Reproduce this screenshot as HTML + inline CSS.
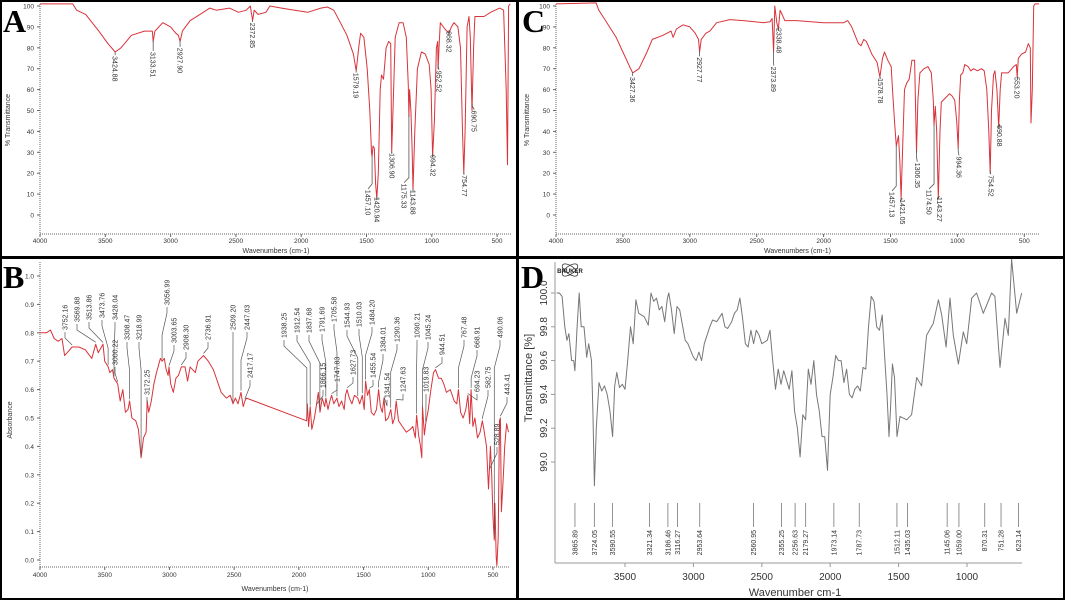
<!DOCTYPE html>
<html><head><meta charset="utf-8"><style>
html,body{margin:0;padding:0;background:#fff}
svg{display:block;font-family:"Liberation Sans",sans-serif}
</style></head><body>
<svg id="s" width="1065" height="600" viewBox="0 0 1065 600" xmlns="http://www.w3.org/2000/svg">
<rect x="0" y="0" width="1065" height="600" fill="#fff"/>
</svg>
<script>
// ---------- DATA ----------
const aWn=[4000,3750,3720,3650,3550,3480,3424,3380,3300,3200,3140,3133,3120,3060,3000,2960,2940,2927,2910,2850,2750,2700,2650,2550,2480,2420,2390,2372,2360,2330,2270,2240,2150,2050,1950,1850,1800,1750,1700,1650,1600,1579,1560,1545,1520,1495,1475,1462,1457,1450,1440,1430,1421,1410,1395,1385,1370,1350,1330,1315,1307,1295,1280,1250,1220,1195,1180,1175,1170,1160,1150,1144,1130,1110,1080,1050,1020,1005,994,980,965,955,952,945,935,900,870,850,830,800,780,765,755,745,730,715,705,692,680,670,600,550,480,450,430,420,412,400];
const aT=[101,101,98,96,88,82,78,80,86,88,88,83,88,92,90,87,86,83,88,93,97,99,98,99,97,98,100,93,98,96,97,100,99,98,97,99,99.5,98,92,86,77,69,80,87,85,70,50,30,28,33,32,15,8,20,60,67,65,80,83,82,30,55,85,92,92,85,62,47,60,50,30,12,40,70,78,77,72,60,28,45,80,83,70,80,92,89,87,90,92,90,80,40,20,40,90,95,85,50,80,95,95,97,99,98,60,24,100,101];
const aLblText=["3424.88","3133.51","2927.90","2372.85","1579.19","1457.10","1420.94","1306.90","1175.33","1143.88","994.32","952.52","868.32","754.77","690.75"];
const aLblPeak=[3424.88,3133.51,2927.9,2372.85,1579.19,1457.1,1420.94,1306.9,1175.33,1143.88,994.32,952.52,868.32,754.77,690.75];
const aLblWn=[3424,3133,2927,2372,1579,1488,1420,1305,1213,1143,990,945,868,750,675];
const aLblTop=[76,78,80,92,68,12,8.6,29.6,15,12,28.7,69,88,19,50];

const cWn=[4000,3700,3680,3640,3600,3550,3500,3450,3427,3380,3320,3280,3200,3140,3125,3100,3050,3000,2960,2935,2927,2915,2880,2850,2800,2700,2600,2450,2400,2385,2374,2365,2350,2338,2325,2310,2290,2200,2000,1850,1820,1790,1740,1720,1700,1680,1640,1600,1579,1560,1545,1520,1495,1485,1470,1457,1450,1440,1430,1421,1410,1395,1380,1360,1340,1320,1306,1295,1280,1250,1220,1195,1180,1175,1165,1155,1143,1130,1120,1090,1060,1040,1020,1005,994,985,975,960,945,920,900,880,850,820,800,780,765,755,745,730,720,705,691,680,670,620,580,560,553,545,520,490,470,455,450,440,430,420,390];
const cT=[101,101.5,98,94,90,85,78,71,68,70,78,84,86,88,85,89,91,90,87,84,78,84,87,88,92,93.5,93,92,92.5,94,78,100,92,89,98,96,93,93,92,92,93,90,82,81,84,83,77,73,66,75,78,74,71,60,45,33,35,38,25,8,30,60,63,65,74,74,30,55,68,70,71,68,55,43,52,40,8,40,54,56,58,57,55,45,32,55,67,68,72,71,69,70,69,70,69,60,40,20,50,67,69,60,42,60,68,68,71,72,66,75,77,78,82,80,44,60,100,101,101];
const cLblText=["3427.36","2927.77","2373.89","2338.48","1578.78","1457.13","1421.05","1306.35","1174.50","1143.27","994.36","754.52","690.88","553.20"];
const cLblPeak=[3427.36,2927.77,2373.89,2338.48,1578.78,1457.13,1421.05,1306.35,1174.5,1143.27,994.36,754.52,690.88,553.2];
const cLblWn=[3427,2927,2373,2332,1575,1489,1412,1300,1212,1135,988,750,684,553];
const cLblTop=[66,75.5,71,89.5,65.5,11,7.6,25,12,8.6,28,19,43,66];

const bWn=[4000,3950,3920,3890,3860,3830,3810,3790,3752,3700,3650,3600,3570,3550,3513,3500,3473,3460,3440,3428,3400,3380,3360,3340,3320,3308,3290,3260,3240,3225,3219,3200,3180,3172,3160,3140,3120,3100,3070,3057,3040,3025,3010,3003,2990,2970,2950,2930,2908,2880,2860,2840,2800,2780,2737,2700,2660,2630,2600,2560,2530,2509,2490,2470,2447,2430,2417,2405,1940,1935,1925,1912,1900,1880,1866,1850,1837,1820,1800,1791,1775,1760,1747,1730,1706,1690,1670,1650,1640,1628,1610,1590,1570,1545,1530,1510,1495,1484,1470,1456,1440,1420,1400,1384,1370,1355,1342,1330,1310,1290,1275,1260,1248,1230,1200,1170,1140,1120,1100,1090,1075,1060,1050,1045,1030,1020,1000,980,960,944,920,900,880,860,830,800,780,767,750,730,710,694,680,669,655,640,620,600,583,570,550,535,525,520,510,500,490,485,475,470,460,450,443,435,420,410,395,380];
const bAbs=[.80,.80,.81,.78,.77,.78,.72,.73,.75,.75,.74,.71,.76,.73,.76,.70,.68,.66,.67,.64,.62,.56,.60,.52,.53,.56,.50,.49,.46,.39,.36,.43,.45,.56,.52,.56,.62,.66,.71,.70,.71,.67,.65,.68,.62,.59,.64,.65,.68,.68,.63,.68,.66,.70,.72,.70,.67,.63,.59,.57,.58,.55,.57,.55,.59,.54,.56,.57,.49,.55,.47,.54,.46,.50,.54,.59,.52,.57,.54,.57,.53,.56,.58,.55,.57,.54,.56,.53,.58,.60,.57,.55,.58,.57,.55,.58,.53,.63,.58,.60,.52,.51,.53,.60,.54,.52,.57,.49,.50,.53,.48,.50,.56,.49,.47,.45,.46,.47,.43,.51,.44,.40,.36,.54,.44,.48,.53,.60,.66,.67,.64,.64,.62,.59,.60,.56,.55,.60,.52,.50,.53,.58,.48,.60,.47,.50,.43,.45,.49,.46,.40,.25,.35,.40,.30,.15,.07,.20,.01,-.02,.08,.49,.50,.17,.30,.40,.48,.45];
const bLblText=["3752.16","3569.88","3513.86","3473.76","3428.04","3308.47","3218.99","3056.99","3003.65","2908.30","2736.91","2509.20","2447.03","2417.17","1938.25","1912.54","1837.68","1791.69","1705.58","1544.93","1510.03","1484.20","1384.01","1290.36","1090.21","1045.24","944.51","767.48","668.91","490.06","3000.22","3172.25","1866.15","1747.83","1627.73","1455.54","1341.54","1247.63","1019.83","694.23","582.75","528.89","443.41"];
const bLblPeak=[3752.16,3569.88,3513.86,3473.76,3428.04,3308.47,3218.99,3056.99,3003.65,2908.3,2736.91,2509.2,2447.03,2417.17,1938.25,1912.54,1837.68,1791.69,1705.58,1544.93,1510.03,1484.2,1384.01,1290.36,1090.21,1045.24,944.51,767.48,668.91,490.06,3400,3172.25,1866.15,1747.83,1627.73,1455.54,1341.54,1247.63,1019.83,694.23,582.75,528.89,443.41];
// label layout (text column x, text bottom y) in px
const bLblLayout=[[65,330],[77,322],[89,320],[102,318],[115,320],[127,340],[139,340],[167,305],[174,343],[186,350],[208,340],[233,330],[247,330],[250,378],[284,338],[297,333],[309,333],[322,332],[334,322],[347,328],[359,327],[372,325],[383,352],[397,342],[417,338],[428,340],[442,355],[464,338],[477,348],[500,338],[115,365],[147,395],[323,388],[337,382],[353,375],[373,378],[387,398],[403,392],[426,392],[477,392],[488,388],[497,445],[507,395]];

const dWn=[4000,3980,3960,3940,3925,3910,3890,3875,3866,3850,3835,3820,3800,3780,3765,3745,3735,3724,3710,3690,3670,3650,3630,3610,3591,3575,3560,3540,3520,3500,3480,3460,3440,3420,3400,3360,3330,3310,3290,3270,3250,3230,3210,3190,3180,3160,3140,3120,3100,3060,3040,3000,2980,2960,2940,2920,2880,2860,2830,2790,2770,2750,2720,2700,2680,2660,2640,2620,2600,2580,2560,2540,2520,2500,2460,2440,2420,2400,2380,2360,2340,2300,2280,2260,2240,2220,2200,2180,2160,2140,2120,2100,2080,2060,2040,2020,2000,1980,1960,1940,1920,1900,1880,1860,1840,1820,1800,1780,1760,1740,1720,1700,1680,1660,1640,1620,1600,1585,1570,1560,1545,1530,1512,1490,1441,1405,1368,1332,1295,1246,1209,1185,1153,1124,1100,1063,1027,1002,966,930,881,820,796,759,722,698,674,637,600];
const dT=[100,100,99.98,99.8,99.72,99.76,99.6,99.6,99.54,99.8,100,99.8,99.8,99.62,99.7,99.6,99.3,98.86,99.2,99.47,99.42,99.45,99.4,99.3,99.15,99.45,99.53,99.44,99.46,99.43,99.6,99.8,99.7,99.96,99.88,99.86,99.81,100,99.95,99.97,99.9,99.92,99.83,99.97,100,99.9,99.76,99.92,99.9,99.72,99.7,99.62,99.6,99.65,99.6,99.7,99.8,99.84,99.83,99.88,99.8,99.79,99.83,99.88,99.9,99.97,99.85,99.7,99.68,99.78,99.7,99.78,99.75,99.7,99.72,99.78,99.6,99.43,99.55,99.46,99.54,99.43,99.54,99.3,99.2,99.03,99.28,99.25,99.55,99.46,99.6,99.4,99.3,99.15,99.15,98.95,99.4,99.5,99.63,99.6,99.6,99.47,99.55,99.4,99.38,99.43,99.45,99.42,99.56,99.55,99.8,99.98,99.95,99.8,99.78,99.87,99.6,99.4,99.15,99.3,99.58,99.5,99.15,99.27,99.25,99.28,99.5,99.45,99.75,99.82,99.96,99.87,99.68,99.97,99.75,99.58,99.77,99.7,99.97,100,99.88,100,99.98,99.56,99.85,99.75,100.2,99.88,100];
const dLblText=["3865.89","3724.05","3590.55","3321.34","3186.46","3116.27","2953.64","2560.95","2355.25","2256.63","2179.27","1973.14","1787.73","1512.11","1435.03","1145.06","1059.00","870.31","751.28","623.14"];
const dLblWn=[3865.89,3724.05,3590.55,3321.34,3186.46,3116.27,2953.64,2560.95,2355.25,2256.63,2179.27,1973.14,1787.73,1512.11,1435.03,1145.06,1059.00,870.31,751.28,623.14];

const xTicks=[4000,3500,3000,2500,2000,1500,1000,500];
const tTicks=[100,90,80,70,60,50,40,30,20,10,0];
const bTicks=[1.0,0.9,0.8,0.7,0.6,0.5,0.4,0.3,0.2,0.1,0.0];
const dXTicks=[3500,3000,2500,2000,1500,1000];
const dYTicks=[100.0,99.8,99.6,99.4,99.2,99.0];

// ---------- HELPERS ----------
const svg=document.getElementById('s');
const NS='http://www.w3.org/2000/svg';
function el(tag,attrs,parent){const e=document.createElementNS(NS,tag);for(const k in attrs)e.setAttribute(k,attrs[k]);(parent||svg).appendChild(e);return e;}
function txt(str,attrs,parent){const e=el('text',attrs,parent);e.textContent=str;return e;}
function interp(W,V,w){for(let i=0;i<W.length-1;i++){if((W[i]>=w&&W[i+1]<=w)){const t=(W[i]-w)/(W[i]-W[i+1]||1);return V[i]+t*(V[i+1]-V[i]);}}return V[V.length-1];}
function line(W,V,xs,ys,color,name){const g=el('g',{});
  let d='';for(let i=0;i<W.length;i++){d+=(i?'L':'M')+xs(W[i]).toFixed(1)+','+ys(V[i]).toFixed(1);}
  const p=el('path',{d:d,fill:'none',stroke:color,'stroke-width':1,'stroke-linejoin':'round'},g);
  return g;}

// ---------- PANEL A & C (transmittance) ----------
function omnicPanel(ox,x0,k,right,W,V,lt,lp,lw,ltop,letter,tag){
  const xs=w=>x0+(4000-w)*k, ys=v=>215-2.09*v;
  const g=el('g',{});
  txt(letter,{x:ox+3,y:32,'font-family':'Liberation Serif,serif','font-weight':'bold','font-size':32,fill:'#000'},g);
  el('line',{x1:x0,y1:4,x2:x0,y2:234,stroke:'#666','stroke-dasharray':'1,1'},g);
  el('line',{x1:x0,y1:234,x2:right,y2:234,stroke:'#666','stroke-dasharray':'1,1'},g);
  tTicks.forEach(t=>{el('line',{x1:x0-3,y1:ys(t),x2:x0,y2:ys(t),stroke:'#666'},g);
    const e=txt(String(t),{x:x0-6,y:ys(t)+2.5,'font-size':6.5,'text-anchor':'end',fill:'#333'},g);});
  xTicks.forEach(t=>{el('line',{x1:xs(t),y1:234,x2:xs(t),y2:237,stroke:'#666'},g);
    const e=txt(String(t),{x:xs(t),y:243,'font-size':6.5,'text-anchor':'middle',fill:'#333'},g);});
  const xt=txt('Wavenumbers (cm-1)',{x:(x0+right)/2,y:253,'font-size':7,'text-anchor':'middle',fill:'#333'},g);
  const yt=txt('% Transmittance',{x:0,y:0,'font-size':7,'text-anchor':'middle',fill:'#333',transform:`translate(${ox+10},120) rotate(-90)`},g);
  g.appendChild(line(W,V,xs,ys,'#d8333a','spectrum-'+tag));
  for(let i=0;i<lt.length;i++){
    const px=xs(lp[i]),py=ys(interp(W,V,lp[i])),tx=xs(lw[i]),ty=ys(ltop[i]);
    el('polyline',{points:`${px},${py} ${px},${Math.max(py+2,ty-6)} ${tx},${ty-1}`,fill:'none',stroke:'#555','stroke-width':0.8},g);
    const e=txt(lt[i],{x:0,y:0,'font-size':7,fill:'#333',transform:`translate(${tx-2.5},${ty}) rotate(90)`},g);
    
  }
}
omnicPanel(0,40,0.1306,512,aWn,aT,aLblText,aLblPeak,aLblWn,aLblTop,'A','a');
omnicPanel(519,556,0.1338,1039,cWn,cT,cLblText,cLblPeak,cLblWn,cLblTop,'C','c');

// ---------- PANEL B (absorbance) ----------
(function(){
  const x0=40,k=0.12943,xs=w=>x0+(4000-w)*k, ys=v=>560-284*v;
  const g=el('g',{});
  txt('B',{x:3,y:288,'font-family':'Liberation Serif,serif','font-weight':'bold','font-size':32,fill:'#000'},g);
  el('line',{x1:x0,y1:262,x2:x0,y2:567,stroke:'#666','stroke-dasharray':'1,1'},g);
  el('line',{x1:x0,y1:567,x2:510,y2:567,stroke:'#666','stroke-dasharray':'1,1'},g);
  bTicks.forEach(t=>{el('line',{x1:x0-3,y1:ys(t),x2:x0,y2:ys(t),stroke:'#666'},g);
    const e=txt(t.toFixed(1),{x:x0-6,y:ys(t)+2.5,'font-size':6.5,'text-anchor':'end',fill:'#333'},g);});
  xTicks.forEach(t=>{el('line',{x1:xs(t),y1:567,x2:xs(t),y2:570,stroke:'#666'},g);
    const e=txt(String(t),{x:xs(t),y:577,'font-size':6.5,'text-anchor':'middle',fill:'#333'},g);});
  const xt=txt('Wavenumbers (cm-1)',{x:275,y:591,'font-size':7,'text-anchor':'middle',fill:'#333'},g);
  const yt=txt('Absorbance',{x:0,y:0,'font-size':7,'text-anchor':'middle',fill:'#333',transform:'translate(12,420) rotate(-90)'},g);
  g.appendChild(line(bWn,bAbs,xs,ys,'#d8333a','spectrum-b'));
  for(let i=0;i<bLblText.length;i++){
    const [tx,by]=bLblLayout[i];const px=xs(bLblPeak[i]),py=ys(interp(bWn,bAbs,bLblPeak[i]));
    el('polyline',{points:`${tx},${by+2} ${tx},${by+8} ${px},${Math.min(py-2,by+30)} ${px},${py-2}`,fill:'none',stroke:'#555','stroke-width':0.7},g);
    const e=txt(bLblText[i],{x:0,y:0,'font-size':7,fill:'#333',transform:`translate(${tx+2.5},${by}) rotate(-90)`},g);
    
  }
})();

// ---------- PANEL D (Bruker) ----------
(function(){
  const xs=w=>556.6+(4000-w)*0.1368, ys=v=>293-(v-100)*169;
  const g=el('g',{});
  txt('D',{x:521,y:288,'font-family':'Liberation Serif,serif','font-weight':'bold','font-size':32,fill:'#000'},g);
  const lg=el('g',{},g);
  el('ellipse',{cx:570,cy:270,rx:9,ry:4,fill:'none',stroke:'#333','stroke-width':0.8,transform:'rotate(35 570 270)'},lg);
  el('ellipse',{cx:570,cy:270,rx:9,ry:4,fill:'none',stroke:'#333','stroke-width':0.8,transform:'rotate(-35 570 270)'},lg);
  txt('BRUKER',{x:570,y:273,'font-size':6,'font-weight':'bold','text-anchor':'middle',fill:'#222'},lg);
  el('line',{x1:555,y1:262,x2:555,y2:563,stroke:'#999'},g);
  el('line',{x1:555,y1:563,x2:1022,y2:563,stroke:'#999'},g);
  dYTicks.forEach(t=>{el('line',{x1:551,y1:ys(t),x2:555,y2:ys(t),stroke:'#999'},g);
    const e=txt(t.toFixed(1),{x:0,y:0,'font-size':10,'text-anchor':'middle',fill:'#333',transform:`translate(547,${ys(t)}) rotate(-90)`},g);});
  dXTicks.forEach(t=>{el('line',{x1:xs(t),y1:563,x2:xs(t),y2:567,stroke:'#999'},g);
    const e=txt(String(t),{x:xs(t),y:580,'font-size':10,'text-anchor':'middle',fill:'#333'},g);});
  const xt=txt('Wavenumber cm-1',{x:795,y:596,'font-size':11,'text-anchor':'middle',fill:'#333'},g);
  const yt=txt('Transmittance [%]',{x:0,y:0,'font-size':11,'text-anchor':'middle',fill:'#333',transform:'translate(532,378) rotate(-90)'},g);
  g.appendChild(line(dWn,dT,xs,ys,'#777','spectrum-d'));
  dLblWn.forEach((w,i)=>{el('line',{x1:xs(w),y1:503,x2:xs(w),y2:527,stroke:'#777','stroke-width':0.8},g);
    const e=txt(dLblText[i],{x:0,y:0,'font-size':7,fill:'#333','text-anchor':'end',transform:`translate(${xs(w)+2.5},530) rotate(-90)`},g);
    });
})();

// ---------- FRAME ----------
const fr=el('g',{});
el('rect',{x:1,y:1,width:1063,height:598,fill:'none',stroke:'#000','stroke-width':2},fr);
el('line',{x1:517.5,y1:0,x2:517.5,y2:600,stroke:'#000','stroke-width':3},fr);
el('line',{x1:0,y1:257.5,x2:1065,y2:257.5,stroke:'#000','stroke-width':3},fr);
</script>
</body></html>
